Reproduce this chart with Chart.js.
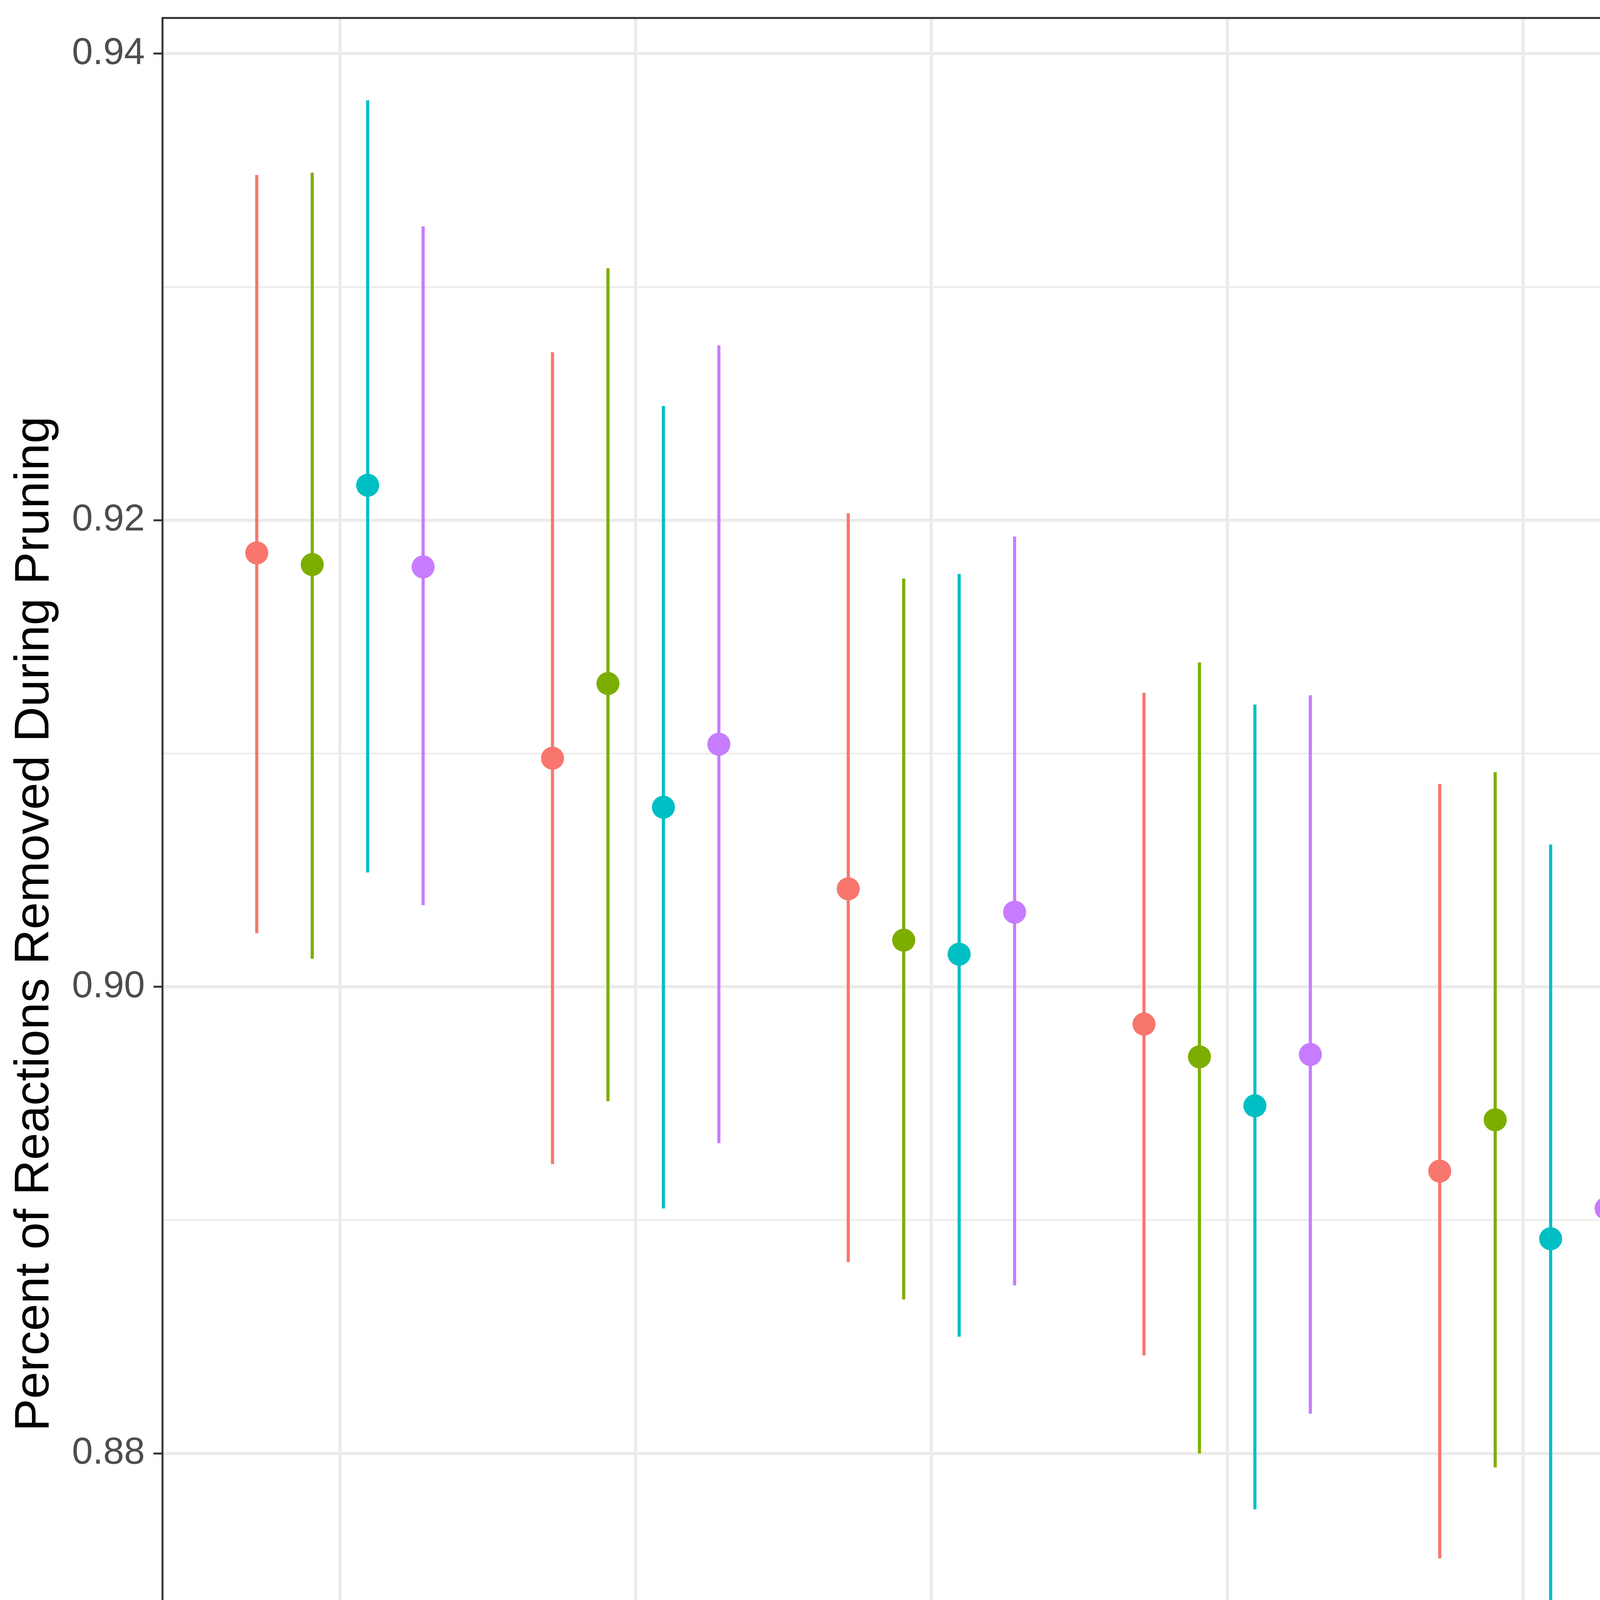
<!DOCTYPE html>
<html>
<head>
<meta charset="utf-8">
<script src="https://cdn.jsdelivr.net/npm/chart.js@4.4.1/dist/chart.umd.min.js"></script>
<style>
  html, body { margin: 0; padding: 0; background: #ffffff; overflow: hidden; }
  #wrap { width: 7000px; height: 5000px; }
  canvas { display: block; }
</style>
</head>
<body>
<div id="wrap"><canvas id="c" width="7000" height="5000"></canvas></div>
<script>
// ---------------- DATA ----------------
const precursors = [5, 6, 7, 8, 9, 10];
const xTickLabels = ['5', '6', '7', '8', '9', '10'];
const nutrients = ['2', '3', '4', '5'];

const mean2 = [0.9186, 0.9098, 0.9042, 0.8984, 0.8921, 0.8861];
const low2  = [0.9023, 0.8924, 0.8882, 0.8842, 0.8755, 0.8701];
const high2 = [0.9348, 0.9272, 0.9203, 0.9126, 0.9087, 0.9021];

const mean3 = [0.9181, 0.9130, 0.9020, 0.8970, 0.8943, 0.8828];
const low3  = [0.9012, 0.8951, 0.8866, 0.8800, 0.8794, 0.8674];
const high3 = [0.9349, 0.9308, 0.9175, 0.9139, 0.9092, 0.8981];

const mean4 = [0.9215, 0.9077, 0.9014, 0.8949, 0.8892, 0.8834];
const low4  = [0.9049, 0.8905, 0.8850, 0.8776, 0.8724, 0.8691];
const high4 = [0.9380, 0.9249, 0.9177, 0.9121, 0.9061, 0.8977];

const mean5 = [0.9180, 0.9104, 0.9032, 0.8971, 0.8905, 0.8857];
const low5  = [0.9035, 0.8933, 0.8872, 0.8817, 0.8742, 0.8708];
const high5 = [0.9326, 0.9275, 0.9193, 0.9125, 0.9068, 0.9006];

const yMajorTicks = [0.88, 0.90, 0.92, 0.94];
const yTickLabels = ['0.88', '0.90', '0.92', '0.94'];
const yMinorTicks = [0.87, 0.89, 0.91, 0.93];

const xTitle = 'Number of Biomass Precursors';
const yTitle = 'Percent of Reactions Removed During Pruning';
const legendTitle = 'Number of Available Nutrients';

// ---------------- STYLE ----------------
const colors = ['#F8766D', '#7CAE00', '#00BFC4', '#C77CFF'];
const FONT = '"Liberation Sans", Arial, Helvetica, sans-serif';
const TITLE_SIZE = 125;
const TICK_SIZE = 96;
const means = [mean2, mean3, mean4, mean5];
const lows = [low2, low3, low4, low5];
const highs = [high2, high3, high4, high5];

const dodgeWidth = 0.75;
const nGroups = nutrients.length;
function dodge(g) { return (g - (nGroups - 1) / 2) * dodgeWidth / nGroups; }

// y range: data range with 5% expansion (ggplot style)
const allLow = Math.min(...lows.flat());
const allHigh = Math.max(...highs.flat());
const yPad = (allHigh - allLow) * 0.05;
const yMin = allLow - yPad, yMax = allHigh + yPad;

const yAllTicks = yMajorTicks.concat(yMinorTicks).sort((a, b) => a - b);
const isMinorY = v => yMinorTicks.indexOf(v) !== -1;

const datasets = [];
nutrients.forEach((n, g) => {
  datasets.push({
    type: 'bar',
    label: n + ' range',
    data: precursors.map((p, i) => ({ x: p + dodge(g), y: [lows[g][i], highs[g][i]] })),
    backgroundColor: colors[g],
    borderWidth: 0,
    grouped: false,
    maxBarThickness: 8,
    order: 2
  });
});
nutrients.forEach((n, g) => {
  datasets.push({
    type: 'scatter',
    label: n,
    data: precursors.map((p, i) => ({ x: p + dodge(g), y: means[g][i] })),
    backgroundColor: colors[g],
    pointBackgroundColor: colors[g],
    pointBorderWidth: 0,
    pointRadius: 29.5,
    pointHoverRadius: 29.5,
    showLine: false,
    order: 1
  });
});

const LAYOUT = { left: 416, right: 5110, top: 46, bottom: 4684, W: 7000, H: 5000 };

const bgPlugin = {
  id: 'bg',
  beforeDraw(chart) {
    const ctx = chart.ctx;
    ctx.save();
    ctx.fillStyle = '#ffffff';
    ctx.fillRect(0, 0, chart.width, chart.height);
    ctx.restore();
  }
};

const borderPlugin = {
  id: 'panelBorder',
  afterDatasetsDraw(chart) {
    const a = chart.chartArea, ctx = chart.ctx;
    ctx.save();
    ctx.strokeStyle = '#333333';
    ctx.lineWidth = 5;
    ctx.strokeRect(a.left, a.top, a.right - a.left, a.bottom - a.top);
    ctx.restore();
  }
};

const legendPlugin = {
  id: 'ggLegend',
  afterDraw(chart) {
    const ctx = chart.ctx;
    ctx.save();
    ctx.fillStyle = '#000000';
    ctx.textAlign = 'left';
    ctx.textBaseline = 'alphabetic';
    ctx.font = TITLE_SIZE + 'px ' + FONT;
    ctx.fillText(legendTitle, 5250, 2091);
    const keyX = 5320, key0 = 2238, step = 144;
    nutrients.forEach((n, g) => {
      const cy = key0 + g * step;
      ctx.fillStyle = colors[g];
      ctx.fillRect(keyX - 4, cy - 58, 8, 116);
      ctx.beginPath();
      ctx.arc(keyX, cy, 30, 0, Math.PI * 2);
      ctx.fill();
      ctx.fillStyle = '#000000';
      ctx.font = TICK_SIZE + 'px ' + FONT;
      ctx.textBaseline = 'middle';
      ctx.fillText(n, 5456, cy + 6);
    });
    ctx.restore();
  }
};

function zeroPad(s) { s.paddingTop = 0; s.paddingBottom = 0; s.paddingLeft = 0; s.paddingRight = 0; }

Chart.defaults.font.family = FONT;

new Chart(document.getElementById('c'), {
  type: 'bar',
  data: { datasets },
  options: {
    responsive: false,
    maintainAspectRatio: false,
    devicePixelRatio: 1,
    animation: false,
    events: [],
    layout: { padding: { left: 0, top: LAYOUT.top, right: LAYOUT.W - LAYOUT.right, bottom: 0 } },
    plugins: { legend: { display: false }, tooltip: { enabled: false }, title: { display: false } },
    scales: {
      x: {
        type: 'linear',
        min: 4.4,
        max: 10.6,
        offset: false,
        afterBuildTicks: s => { s.ticks = precursors.map(v => ({ value: v })); },
        afterFit: s => { s.height = LAYOUT.H - LAYOUT.bottom; zeroPad(s); },
        ticks: {
          callback: (v) => { const i = precursors.indexOf(v); return i >= 0 ? xTickLabels[i] : ''; },
          font: { size: TICK_SIZE, family: FONT },
          color: '#4D4D4D',
          padding: 7,
          maxRotation: 0,
          autoSkip: false
        },
        grid: {
          offset: false,
          color: '#EBEBEB',
          lineWidth: 8,
          drawTicks: true,
          tickLength: 23,
          tickColor: '#333333',
          tickWidth: 5
        },
        border: { display: false },
        title: {
          display: true,
          text: xTitle,
          color: '#000000',
          font: { size: TITLE_SIZE, family: FONT, lineHeight: 1 },
          padding: { top: 0, bottom: 49 }
        }
      },
      y: {
        type: 'linear',
        min: yMin,
        max: yMax,
        afterBuildTicks: s => { s.ticks = yAllTicks.map(v => ({ value: v })); },
        afterFit: s => { s.width = LAYOUT.left; zeroPad(s); },
        ticks: {
          callback: (v) => { const i = yMajorTicks.indexOf(v); return i >= 0 ? yTickLabels[i] : ''; },
          font: { size: TICK_SIZE, family: FONT },
          color: '#4D4D4D',
          padding: 22,
          autoSkip: false
        },
        grid: {
          color: '#EBEBEB',
          lineWidth: c => (c.tick && isMinorY(c.tick.value)) ? 4 : 8,
          drawTicks: true,
          tickLength: 23,
          tickColor: c => (c.tick && isMinorY(c.tick.value)) ? 'rgba(0,0,0,0)' : '#333333',
          tickWidth: 5
        },
        border: { display: false },
        title: {
          display: true,
          text: yTitle,
          color: '#000000',
          font: { size: TITLE_SIZE, family: FONT, lineHeight: 1 },
          padding: { top: 27, bottom: 0 }
        }
      }
    }
  },
  plugins: [bgPlugin, borderPlugin, legendPlugin]
});
</script>
</body>
</html>
